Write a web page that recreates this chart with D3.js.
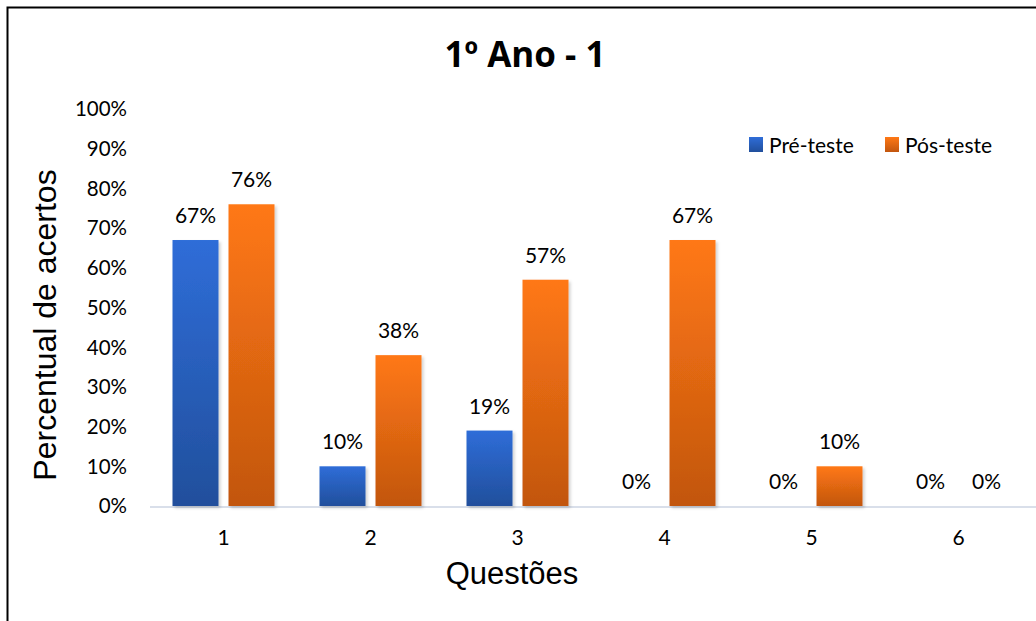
<!DOCTYPE html>
<html>
<head>
<meta charset="utf-8">
<script src="https://cdn.jsdelivr.net/npm/d3@7"></script>
<style>
  body { margin: 0; background: #fff; }
  svg { display: block; }
</style>
</head>
<body>
<svg id="chart" width="1036" height="621"></svg>
<script>
  // chart data
  var questoes = ["1", "2", "3", "4", "5", "6"];
  var series = ["Pré-teste", "Pós-teste"];
  var pre_teste = [67, 10, 19, 0, 0, 0];
  var pos_teste = [76, 38, 57, 67, 10, 0];
  var y_ticks = [0, 10, 20, 30, 40, 50, 60, 70, 80, 90, 100];

  var margin = {top: 109, right: 4, bottom: 115, left: 150};
  var width = 1036, height = 621;
  var tickFont = "Lato, 'Open Sans', sans-serif";

  var svg = d3.select("#chart");
  var defs = svg.append("defs");

  function grad(id, top, bottom) {
    var g = defs.append("linearGradient").attr("id", id)
      .attr("x1", 0).attr("y1", 0).attr("x2", 0).attr("y2", 1);
    g.append("stop").attr("offset", "0%").attr("stop-color", top);
    g.append("stop").attr("offset", "100%").attr("stop-color", bottom);
  }
  grad("g_pre", "#2F6DD8", "#214F9C");
  grad("g_pos", "#FF7815", "#C2560E");

  var f = defs.append("filter").attr("id", "shadow")
    .attr("x", "-20%").attr("y", "-20%").attr("width", "150%").attr("height", "150%");
  f.append("feDropShadow").attr("dx", 2).attr("dy", 2).attr("stdDeviation", 1.5)
    .attr("flood-color", "#000").attr("flood-opacity", 0.18);

  // frame (left and top edges visible)
  svg.append("rect")
    .attr("x", 7.5).attr("y", 7.5).attr("width", 1200).attr("height", 800)
    .attr("fill", "none").attr("stroke", "#000").attr("stroke-width", 2);

  var x0 = d3.scaleBand()
    .domain(questoes)
    .range([margin.left, margin.left + 147 * 6]);

  var y = d3.scaleLinear()
    .domain([0, 100])
    .range([height - margin.bottom, margin.top]);

  var data = questoes.map(function(q, i) {
    return {q: q, values: [pre_teste[i], pos_teste[i]]};
  });

  // y axis labels
  svg.append("g")
    .selectAll("text").data(y_ticks).enter().append("text")
    .attr("x", 127)
    .attr("y", function(d) { return y(d); })
    .attr("dy", "0.36em")
    .attr("text-anchor", "end")
    .attr("font-family", tickFont)
    .attr("font-size", 20.5)
    .attr("fill", "#000")
    .text(function(d) { return d + "%"; });

  // baseline
  svg.append("line")
    .attr("x1", margin.left).attr("x2", width)
    .attr("y1", y(0) + 1).attr("y2", y(0) + 1)
    .attr("stroke", "#D9DFEA").attr("stroke-width", 2);

  var barW = 46, gap = 10;
  var groupOff = (x0.bandwidth() - (2 * barW + gap)) / 2;
  function bx(i, s) { return x0(questoes[i]) + groupOff + s * (barW + gap); }

  var fills = ["url(#g_pre)", "url(#g_pos)"];

  var groups = svg.append("g").selectAll("g").data(data).enter().append("g");

  groups.each(function(d, i) {
    var g = d3.select(this);
    d.values.forEach(function(v, s) {
      if (v > 0) {
        g.append("rect")
          .attr("x", bx(i, s))
          .attr("y", y(v))
          .attr("width", barW)
          .attr("height", y(0) - y(v))
          .attr("fill", fills[s])
          .attr("filter", "url(#shadow)");
      }
      g.append("text")
        .attr("x", bx(i, s) + barW / 2)
        .attr("y", y(v) - 17)
        .attr("text-anchor", "middle")
        .attr("font-family", tickFont)
        .attr("font-size", 21)
        .attr("fill", "#000")
        .text(v + "%");
    });
  });

  // x axis labels
  svg.append("g")
    .selectAll("text").data(questoes).enter().append("text")
    .attr("x", function(d) { return x0(d) + x0.bandwidth() / 2; })
    .attr("y", 545)
    .attr("text-anchor", "middle")
    .attr("font-family", tickFont)
    .attr("font-size", 21)
    .attr("fill", "#000")
    .text(function(d) { return d; });

  // title
  svg.append("text")
    .attr("x", 525).attr("y", 67)
    .attr("text-anchor", "middle")
    .attr("font-family", "'Open Sans', Lato, sans-serif")
    .attr("font-weight", "bold")
    .attr("font-size", 35)
    .text("1º Ano - 1");

  // axis titles
  svg.append("text")
    .attr("x", 512).attr("y", 584)
    .attr("text-anchor", "middle")
    .attr("font-family", "'Liberation Sans', Arial, sans-serif")
    .attr("font-size", 31)
    .text("Questões");

  svg.append("text")
    .attr("transform", "translate(56," + 325 + ") rotate(-90)")
    .attr("text-anchor", "middle")
    .attr("font-family", "'Liberation Sans', Arial, sans-serif")
    .attr("font-size", 32)
    .text("Percentual de acertos");

  // legend
  var legX = [749, 885];
  var leg = svg.append("g").selectAll("g").data(series).enter().append("g");
  leg.append("rect")
    .attr("x", function(d, i) { return legX[i]; })
    .attr("y", 137).attr("width", 14).attr("height", 15)
    .attr("fill", function(d, i) { return fills[i]; });
  leg.append("text")
    .attr("x", function(d, i) { return legX[i] + 20; })
    .attr("y", 145).attr("dy", "0.36em")
    .attr("font-family", tickFont)
    .attr("font-size", 21)
    .text(function(d) { return d; });
</script>
</body>
</html>
